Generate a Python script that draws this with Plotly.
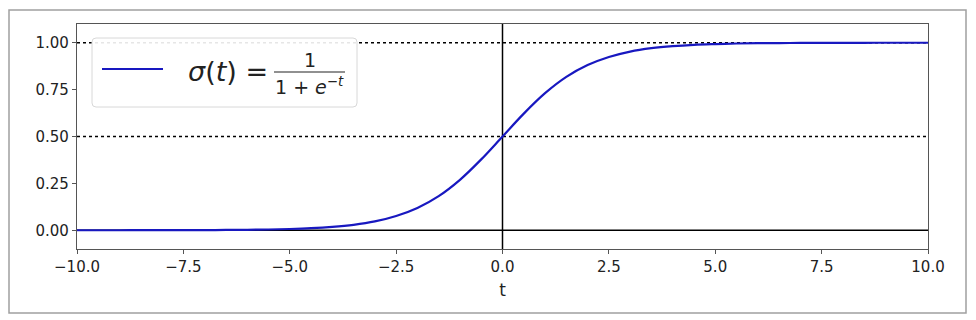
import plotly.graph_objects as go

# Values
t_vals = [-10.0, -9.5, -9.0, -8.5, -8.0, -7.5, -7.0, -6.5, -6.0, -5.5, -5.0, -4.5,
          -4.0, -3.5, -3.0, -2.5, -2.0, -1.5, -1.0, -0.5, 0.0, 0.5, 1.0, 1.5, 2.0,
          2.5, 3.0, 3.5, 4.0, 4.5, 5.0, 5.5, 6.0, 6.5, 7.0, 7.5, 8.0, 8.5, 9.0, 9.5, 10.0]
sig_vals = [0.0000, 0.0001, 0.0001, 0.0002, 0.0003, 0.0006, 0.0009, 0.0015, 0.0025, 0.0041,
            0.0067, 0.011, 0.018, 0.029, 0.047, 0.076, 0.119, 0.182, 0.269, 0.378, 0.500,
            0.622, 0.731, 0.818, 0.881, 0.924, 0.953, 0.971, 0.982, 0.989, 0.993, 0.996,
            0.998, 0.9985, 0.9991, 0.9994, 0.9997, 0.9998, 0.9999, 0.9999, 1.0000]
x_ticks = [-10.0, -7.5, -5.0, -2.5, 0.0, 2.5, 5.0, 7.5, 10.0]
y_ticks = [0.0, 0.25, 0.5, 0.75, 1.0]
x_range = [-10, 10]
y_range = [-0.1, 1.1]
dotted_levels = [1.0, 0.5]

FONT = "DejaVu Sans"
fig = go.Figure()

# dotted reference lines
for lv in dotted_levels:
    fig.add_trace(go.Scatter(x=x_range, y=[lv, lv], mode="lines",
                             line=dict(color="black", width=1.3, dash="dot"),
                             showlegend=False, hoverinfo="skip"))
# axes lines
fig.add_trace(go.Scatter(x=x_range, y=[0, 0], mode="lines",
                         line=dict(color="black", width=1.5), showlegend=False, hoverinfo="skip"))
fig.add_trace(go.Scatter(x=[0, 0], y=y_range, mode="lines",
                         line=dict(color="black", width=1.5), showlegend=False, hoverinfo="skip"))
# sigmoid
fig.add_trace(go.Scatter(x=t_vals, y=sig_vals, mode="lines", line_shape="spline",
                         line=dict(color="#1818c0", width=2.2), showlegend=False))

L, R, T, B = 77, 928, 24, 249
W, H = R - L, B - T


def px(x):
    return (x - L) / W


def py(y):
    return (B - y) / H


# outer image border
fig.add_shape(type="rect", xref="paper", yref="paper",
              x0=px(9), x1=px(966), y0=py(313), y1=py(10),
              line=dict(color="#a0a0a0", width=1.5), layer="above")

# legend box (rounded)
x0, x1, y0, y1 = px(92), px(357), py(107), py(38)
rx, ry = 4 / W, 4 / H
path = (f"M {x0+rx},{y1} L {x1-rx},{y1} Q {x1},{y1} {x1},{y1-ry} "
        f"L {x1},{y0+ry} Q {x1},{y0} {x1-rx},{y0} L {x0+rx},{y0} "
        f"Q {x0},{y0} {x0},{y0+ry} L {x0},{y1-ry} Q {x0},{y1} {x0+rx},{y1} Z")
fig.add_shape(type="path", xref="paper", yref="paper", path=path,
              fillcolor="rgba(255,255,255,0.9)", line=dict(color="#d8d8d8", width=1),
              layer="above")
# legend sample line
fig.add_shape(type="line", xref="paper", yref="paper",
              x0=px(102), x1=px(163), y0=py(69), y1=py(69),
              line=dict(color="#1818c0", width=2.2), layer="above")
# fraction bar
fig.add_shape(type="line", xref="paper", yref="paper",
              x0=px(274), x1=px(345), y0=py(72), y1=py(72),
              line=dict(color="#222", width=1.2), layer="above")

fig.add_annotation(xref="paper", yref="paper", x=px(186), y=py(71),
                   xanchor="left", yanchor="middle", showarrow=False,
                   text="<i>σ</i>(<i>t</i>) =", font=dict(family=FONT, size=27, color="#222"))
fig.add_annotation(xref="paper", yref="paper", x=px(310), y=py(60),
                   xanchor="center", yanchor="middle", showarrow=False,
                   text="1", font=dict(family=FONT, size=19, color="#222"))
fig.add_annotation(xref="paper", yref="paper", x=px(309), y=py(86),
                   xanchor="center", yanchor="middle", showarrow=False,
                   text="1 + <i>e</i><sup>−<i>t</i></sup>",
                   font=dict(family=FONT, size=19, color="#222"))

fig.update_xaxes(range=x_range, tickvals=x_ticks, tickformat=".1f",
                 showgrid=False, zeroline=False, showline=True, mirror=True,
                 linecolor="#555", linewidth=1.2, ticks="outside", ticklen=4,
                 tickcolor="#555", tickfont=dict(family=FONT, size=15, color="#222"),
                 title=dict(text="t", font=dict(family=FONT, size=17, color="#222"), standoff=9))
fig.update_yaxes(range=y_range, tickvals=y_ticks, tickformat=".2f",
                 showgrid=False, zeroline=False, showline=True, mirror=True,
                 linecolor="#555", linewidth=1.2, ticks="outside", ticklen=4,
                 tickcolor="#555", tickfont=dict(family=FONT, size=15, color="#222"))

fig.update_layout(width=976, height=320, margin=dict(l=L, r=976 - R, t=T, b=320 - B),
                  paper_bgcolor="white", plot_bgcolor="white", showlegend=False)

fig.write_html("out.html")
